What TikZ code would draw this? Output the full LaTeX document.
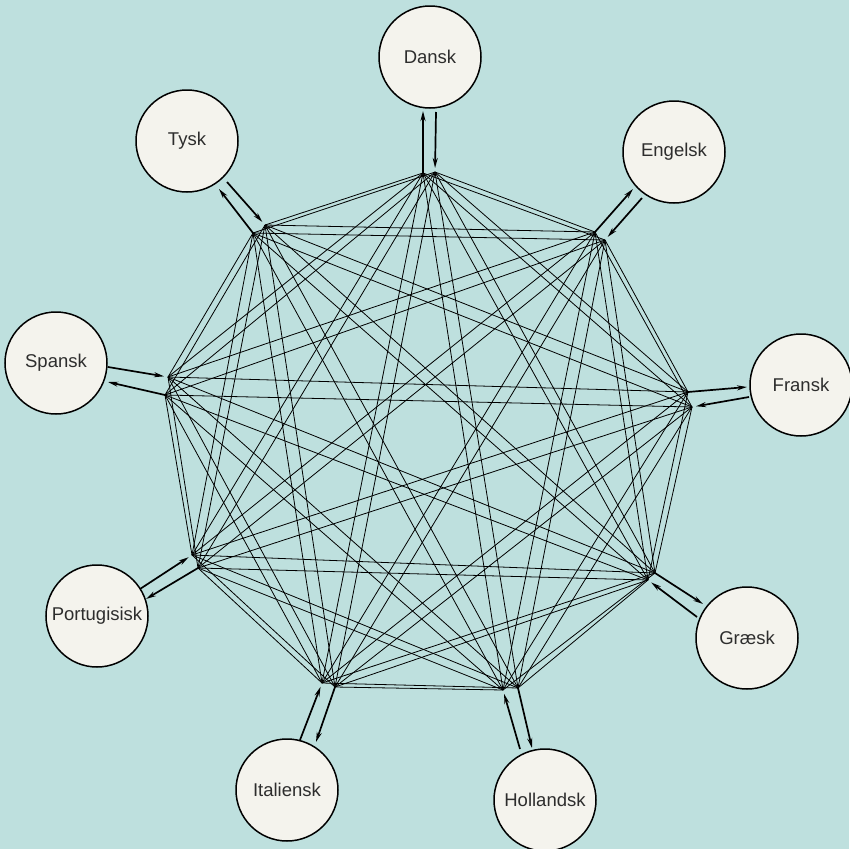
\documentclass[tikz,border=0pt]{standalone}
\usepackage{fontspec}
\setmainfont{Liberation Sans}
\usetikzlibrary{arrows.meta}
\definecolor{bgc}{RGB}{190,224,222}
\definecolor{circfill}{RGB}{244,243,237}
\definecolor{txt}{RGB}{45,45,45}
\tikzset{
  lang/.style={circle,draw=black,line width=1.5pt,fill=circfill,minimum size=102pt,inner sep=0pt,
    text=txt,font=\fontsize{18.5}{22}\selectfont},
  web/.style={line width=0.8pt,black},
  arr/.style={line width=1.7pt,-{Stealth[length=10pt,width=5pt]}},
}
\begin{document}
\begin{tikzpicture}[x=1pt,y=-1pt]
\fill[bgc] (0,0) rectangle (849,849);
\useasboundingbox (0,0) rectangle (849,849);
% language circles
\node[lang] (c1) at (430,57) {Dansk};
\node[lang] (c2) at (674,152) {Engelsk};
\node[lang] (c3) at (801,385) {Fransk};
\node[lang] (c4) at (747,638) {Græsk};
\node[lang] (c5) at (545,800) {Hollandsk};
\node[lang] (c6) at (287,790) {Italiensk};
\node[lang] (c7) at (97,616) {Portugisisk};
\node[lang] (c8) at (56,363) {Spansk};
\node[lang] (c9) at (187,141) {Tysk};
% vertex points: o = out to circle, i = in from circle
\coordinate (o1) at (423,173); \coordinate (i1) at (435,172);
\coordinate (o2) at (595,232); \coordinate (i2) at (605,240);
\coordinate (o3) at (688,392); \coordinate (i3) at (692,407);
\coordinate (o4) at (655,573); \coordinate (i4) at (648,580);
\coordinate (o5) at (518,688); \coordinate (i5) at (503,690);
\coordinate (o6) at (335,687); \coordinate (i6) at (322,683);
\coordinate (o7) at (198,568); \coordinate (i7) at (192,555);
\coordinate (o8) at (165,395); \coordinate (i8) at (168,377);
\coordinate (o9) at (253,233); \coordinate (i9) at (265,225);
% arrow ends at circles
\coordinate (t1) at (423,111); \coordinate (s1) at (436,112);
\coordinate (t2) at (633,189); \coordinate (s2) at (642,198);
\coordinate (t3) at (747,387); \coordinate (s3) at (749,397);
\coordinate (t4) at (703,604); \coordinate (s4) at (697,617);
\coordinate (t5) at (532,748); \coordinate (s5) at (520,749);
\coordinate (t6) at (316,742); \coordinate (s6) at (300,740);
\coordinate (t7) at (146,599); \coordinate (s7) at (140,589);
\coordinate (t8) at (108,382); \coordinate (s8) at (108,367);
\coordinate (t9) at (219,189); \coordinate (s9) at (227,182);
% web
\foreach \a in {1,...,9}{
  \foreach \b in {1,...,9}{
    \ifnum\a=\b\else
      \draw[web] (i\a) -- (o\b);
    \fi
  }
}
% arrows
\foreach \k in {1,...,9}{
  \draw[arr] (o\k) -- (t\k);
  \draw[arr,shorten >=4pt] (s\k) -- (i\k);
}
\end{tikzpicture}
\end{document}
